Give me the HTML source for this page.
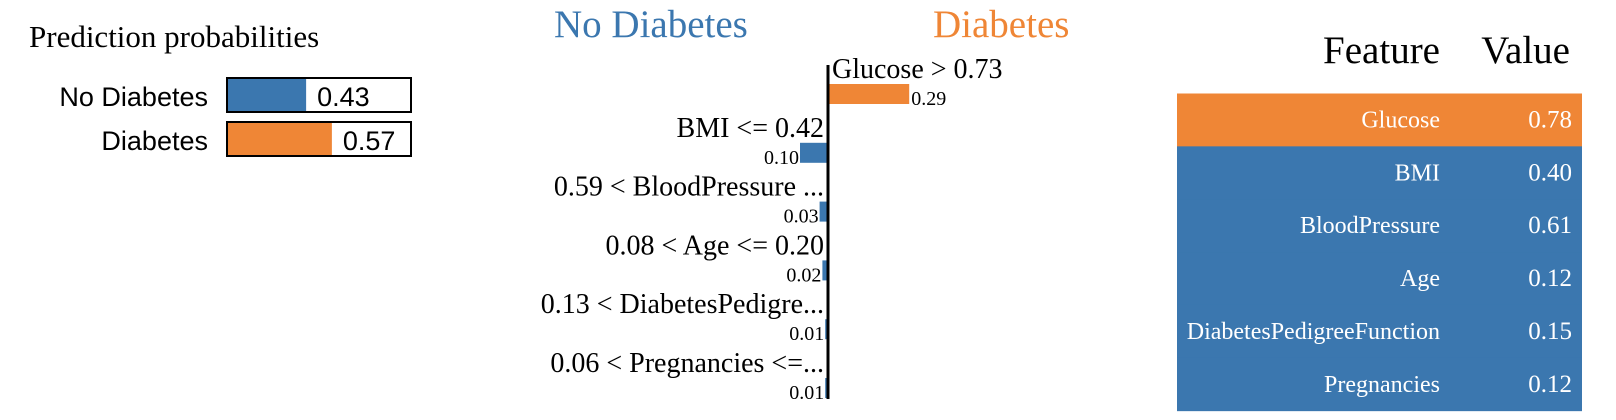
<!DOCTYPE html>
<html><head><meta charset="utf-8"><style>
html,body{margin:0;padding:0;background:#fff;}
svg{display:block;}
text{font-family:"Liberation Serif",serif;}
.sans{font-family:"Liberation Sans",sans-serif;}
</style></head><body>
<svg id="chart" width="1616" height="420" viewBox="0 0 1616 420">
<g id="probs">
<text x="29" y="47" font-size="31">Prediction probabilities</text>
</g>
<g id="expl">
<text x="554" y="37" font-size="39" fill="#3b77af">No Diabetes</text>
<text x="933" y="37" font-size="39" fill="#ef8636">Diabetes</text>
</g>
<g id="table">
<text x="1440" y="63" font-size="39" text-anchor="end">Feature</text>
<text x="1570" y="63" font-size="39" text-anchor="end">Value</text>
</g>
</svg>
<script>
const classNames = ["No Diabetes", "Diabetes"];
const classProbs = [0.43, 0.57];
const ruleLabels = ["Glucose > 0.73", "BMI <= 0.42", "0.59 < BloodPressure ...", "0.08 < Age <= 0.20", "0.13 < DiabetesPedigre...", "0.06 < Pregnancies <=..."];
const ruleWeights = [0.29, -0.10, -0.03, -0.02, -0.01, -0.01];
const featureNames = ["Glucose", "BMI", "BloodPressure", "Age", "DiabetesPedigreeFunction", "Pregnancies"];
const featureValues = ["0.78", "0.40", "0.61", "0.12", "0.15", "0.12"];

const NS = "http://www.w3.org/2000/svg";
const BLUE = "#3b77af", ORANGE = "#ef8636";
function mk(tag, attrs, parent) {
  const e = document.createElementNS(NS, tag);
  for (const k in attrs) e.setAttribute(k, attrs[k]);
  parent.appendChild(e);
  return e;
}
// prediction probabilities
const probs = document.getElementById('probs');
const pX = 227, pW = 184, pH = 34;
const pY = i => 78 + i * 44;
classNames.forEach((n, i) => {
  const lbl = mk('text', {x: 208, y: pY(i) + 28, 'font-size': 27, 'text-anchor': 'end', class: 'sans'}, probs);
  lbl.textContent = n;
  
  
  const fill = mk('rect', {x: pX, y: pY(i), width: classProbs[i] * pW, height: pH, fill: i === 0 ? BLUE : ORANGE}, probs);
  
  
  const box = mk('rect', {x: pX, y: pY(i), width: pW, height: pH, fill: 'none', stroke: '#000', 'stroke-width': 2}, probs);
  
  
  const v = mk('text', {x: pX + classProbs[i] * pW + 11, y: pY(i) + 28, 'font-size': 27, class: 'sans'}, probs);
  v.textContent = classProbs[i].toFixed(2);
  
  
});
// feature weights
const expl = document.getElementById('expl');
const axisX = 828, wScale = 280;
const rowY = i => 84 + i * 58.8;
const xOf = w => axisX + w * wScale;
ruleLabels.forEach((r, i) => {
  const w = ruleWeights[i];
  const x0 = Math.min(xOf(0), xOf(w)), x1 = Math.max(xOf(0), xOf(w));
  const bar = mk('rect', {x: x0, y: rowY(i), width: x1 - x0, height: 20, fill: w > 0 ? ORANGE : BLUE}, expl);
  
  
  const t = mk('text', {x: w > 0 ? axisX + 4 : axisX - 4, y: rowY(i) - 6, 'font-size': 28, 'text-anchor': w > 0 ? 'start' : 'end'}, expl);
  t.textContent = r;
  
  
  const v = mk('text', {x: w > 0 ? x1 + 2 : x0 - 1, y: rowY(i) + 21, 'font-size': 20, 'text-anchor': w > 0 ? 'start' : 'end'}, expl);
  v.textContent = Math.abs(w).toFixed(2);
  
  
});
const ax = mk('line', {x1: axisX, x2: axisX, y1: 65, y2: 399, stroke: '#000', 'stroke-width': 3}, expl);


// table
const table = document.getElementById('table');
const tY = i => 93.5 + i * 52.85;
featureNames.forEach((f, i) => {
  const bg = mk('rect', {x: 1177, y: tY(i), width: 405, height: 53.4, fill: ruleWeights[i] > 0 ? ORANGE : BLUE}, table);
  
  
  const t = mk('text', {x: 1440, y: tY(i) + 34, 'font-size': 24, fill: '#fff', 'text-anchor': 'end'}, table);
  t.textContent = f;
  
  
  const v = mk('text', {x: 1572, y: tY(i) + 34, 'font-size': 25, fill: '#fff', 'text-anchor': 'end'}, table);
  v.textContent = featureValues[i];
  
  
});
</script>
</body></html>
